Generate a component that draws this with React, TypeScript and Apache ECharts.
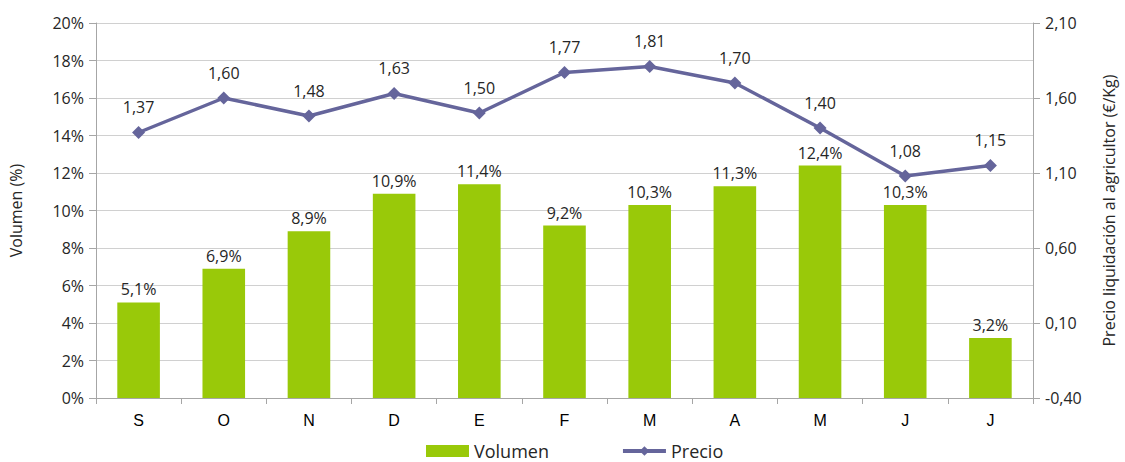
import React, { useEffect, useRef } from "react";
import * as echarts from "echarts";

const CATEGORIES = ["S", "O", "N", "D", "E", "F", "M", "A", "M", "J", "J"];
const VOLUMEN = [5.1, 6.9, 8.9, 10.9, 11.4, 9.2, 10.3, 11.3, 12.4, 10.3, 3.2];
const PRECIO = [1.37, 1.6, 1.48, 1.63, 1.5, 1.77, 1.81, 1.7, 1.4, 1.08, 1.15];
const PRICE_MIN = -0.4; // right axis starts at -0,40
const PRICE_MAX = 2.1;

const FONT = "'Open Sans', 'DejaVu Sans', sans-serif";
const TXT = "#262626";

export default function App() {
  const ref = useRef<HTMLDivElement>(null);
  useEffect(() => {
    document.body.style.margin = "0";
    if (!ref.current) return;
    const chart = echarts.init(ref.current, undefined, { renderer: "svg" });
    chart.setOption({
      animation: false,
      textStyle: { fontFamily: FONT, color: TXT },
      grid: { left: 94, right: 86, top: 23, bottom: 64 },
      legend: {
        bottom: -3,
        left: 421,
        itemGap: 72,
        itemWidth: 43,
        itemHeight: 12,
        textStyle: { fontFamily: FONT, fontSize: 18, color: TXT },
        data: [
          { name: "Volumen", icon: "rect" },
          { name: "Precio", lineStyle: { width: 4 } },
        ],
      },
      xAxis: {
        type: "category",
        data: CATEGORIES,
        axisLine: { lineStyle: { color: "#A6A6A6", width: 1 } },
        axisTick: { show: true, length: 6, lineStyle: { color: "#A6A6A6" } },
        axisLabel: { fontFamily: "'Liberation Sans', Arial, sans-serif", fontSize: 16, color: "#000", margin: 14 },
      },
      yAxis: [
        {
          type: "value",
          min: 0,
          max: 20,
          interval: 2,
          name: "Volumen (%)",
          nameLocation: "middle",
          nameGap: 72,
          nameTextStyle: { fontFamily: FONT, fontSize: 16, color: TXT },
          axisLine: { show: true, lineStyle: { color: "#A6A6A6" } },
          axisTick: { show: true, length: 7, lineStyle: { color: "#A6A6A6" } },
          axisLabel: { fontSize: 16, color: TXT, margin: 12, formatter: (v: number) => `${v}%` },
          splitLine: { lineStyle: { color: "#D0D0D0", width: 1 } },
        },
        {
          type: "value",
          min: 0,
          max: PRICE_MAX - PRICE_MIN,
          interval: 0.5,
          name: "Precio liquidación al agricultor (€/Kg)",
          nameLocation: "middle",
          nameGap: 68,
          nameTextStyle: { fontFamily: FONT, fontSize: 16, color: TXT },
          axisLine: { show: true, lineStyle: { color: "#A6A6A6" } },
          axisTick: { show: true, length: 7, lineStyle: { color: "#A6A6A6" } },
          axisLabel: {
            fontSize: 16,
            color: TXT,
            margin: 12,
            formatter: (v: number) => (v + PRICE_MIN).toFixed(2).replace(".", ","),
          },
          splitLine: { show: false },
        },
      ],
      series: [
        {
          name: "Volumen",
          type: "bar",
          yAxisIndex: 0,
          data: VOLUMEN,
          barWidth: "50%",
          itemStyle: { color: "#99C909" },
          label: {
            show: true,
            position: "top",
            distance: 5,
            fontFamily: FONT,
            fontSize: 16,
            color: TXT,
            formatter: (p: any) => `${(p.value as number).toFixed(1).replace(".", ",")}%`,
          },
          z: 2,
        },
        {
          name: "Precio",
          type: "line",
          yAxisIndex: 1,
          data: PRECIO.map((v) => +(v - PRICE_MIN).toFixed(4)),
          symbol: "diamond",
          symbolSize: 13,
          lineStyle: { color: "#65659B", width: 3.5 },
          itemStyle: { color: "#65659B" },
          label: {
            show: true,
            position: "top",
            distance: 11,
            fontFamily: FONT,
            fontSize: 16,
            color: TXT,
            formatter: (p: any) => PRECIO[p.dataIndex].toFixed(2).replace(".", ","),
          },
          z: 3,
        },
      ],
    });
    return () => chart.dispose();
  }, []);
  return <div ref={ref} style={{ width: 1125, height: 462 }} />;
}
